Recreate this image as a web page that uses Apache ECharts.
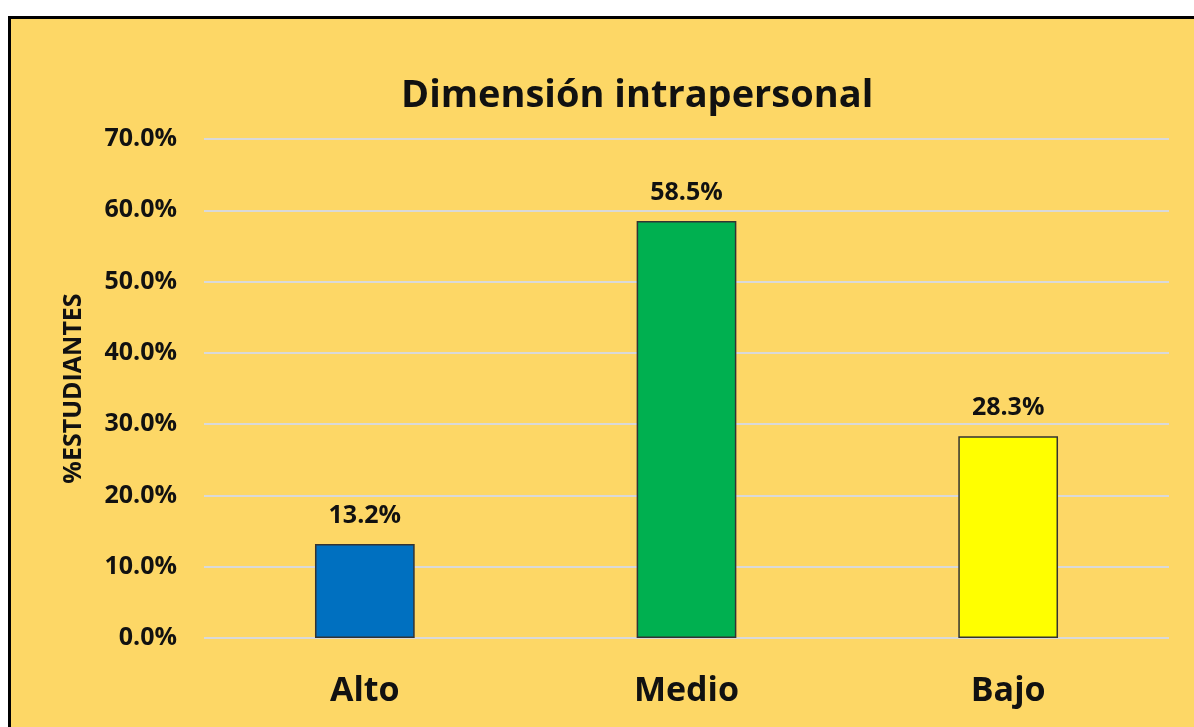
<!DOCTYPE html>
<html>
<head>
<meta charset="utf-8">
<script src="https://cdn.jsdelivr.net/npm/echarts@6/dist/echarts.min.js"></script>
<style>
  html, body { margin: 0; padding: 0; background: #fff; overflow: hidden; }
  #chart {
    position: absolute;
    left: 8px;
    top: 16px;
    width: 1183px;
    height: 708px;
    border-left: 3px solid #000;
    border-top: 3px solid #000;
  }
</style>
</head>
<body>
<div id="chart"></div>
<script>
// datos
const categories = ["Alto", "Medio", "Bajo"];
const values = [13.2, 58.5, 28.3];
const barColors = ["#0070C0", "#00B050", "#FFFF00"];

const font = "'Open Sans', Lato, sans-serif";
const chart = echarts.init(document.getElementById("chart"));

chart.setOption({
  backgroundColor: "#FDD766",
  animation: false,
  title: {
    text: "Dimensión intrapersonal",
    left: 385,
    top: 53,
    textStyle: { fontFamily: font, fontSize: 38, fontWeight: "bold", color: "#111" }
  },
  grid: { left: 193, right: 25, top: 120, bottom: 89 },
  xAxis: {
    type: "category",
    data: categories,
    axisLine: { show: false },
    axisTick: { show: false },
    axisLabel: {
      margin: 36,
      fontFamily: font,
      fontSize: 34,
      fontWeight: "bold",
      color: "#111"
    }
  },
  yAxis: {
    type: "value",
    min: 0,
    max: 70,
    interval: 10,
    name: "%ESTUDIANTES",
    nameLocation: "middle",
    nameGap: 118,
    nameTextStyle: { fontFamily: font, fontSize: 25, fontWeight: "bold", color: "#111" },
    axisLine: { show: false },
    axisTick: { show: false },
    splitLine: { lineStyle: { color: "#D9D9D9", width: 2 } },
    axisLabel: {
      margin: 27,
      fontFamily: font,
      fontSize: 25,
      fontWeight: "bold",
      color: "#111",
      formatter: v => v.toFixed(1) + "%"
    }
  },
  series: [{
    type: "bar",
    barWidth: "31%",
    data: values.map((v, i) => ({
      value: v,
      itemStyle: { color: barColors[i], borderColor: "#333", borderWidth: 1.5 }
    })),
    label: {
      show: true,
      position: "top",
      distance: 16,
      fontFamily: font,
      fontSize: 25,
      fontWeight: "bold",
      color: "#111",
      formatter: p => p.value.toFixed(1) + "%"
    }
  }]
});
</script>
</body>
</html>
